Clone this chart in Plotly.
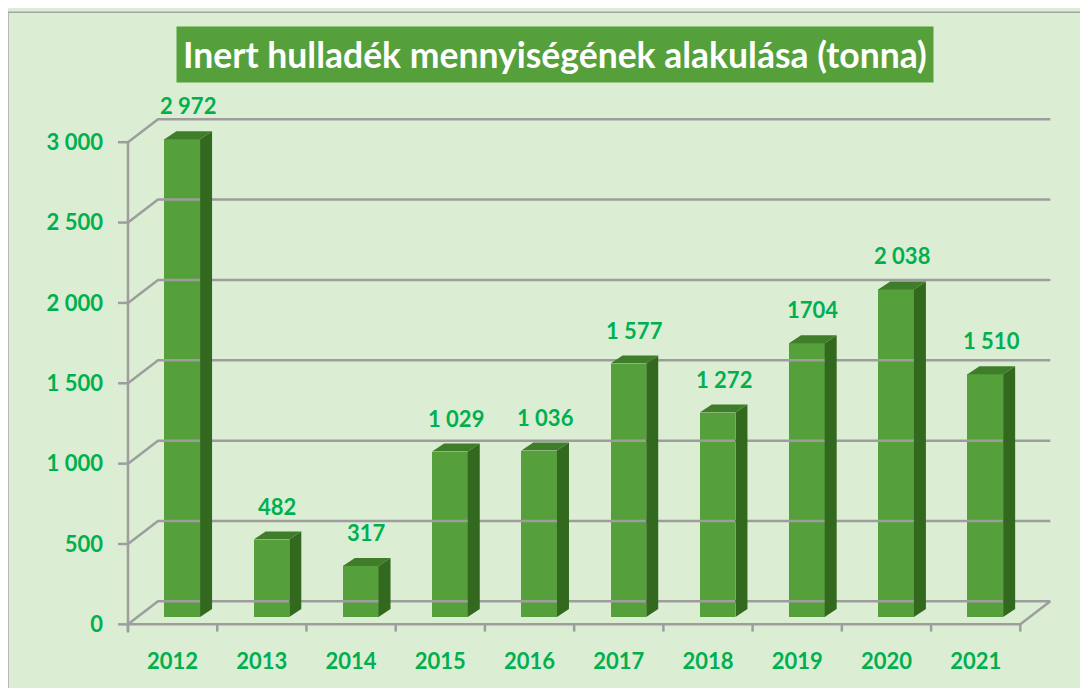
import plotly.graph_objects as go

# ---- data ----
years = ["2012", "2013", "2014", "2015", "2016", "2017", "2018", "2019", "2020", "2021"]
values = [2972, 482, 317, 1029, 1036, 1577, 1272, 1704, 2038, 1510]
value_labels = ["2 972", "482", "317", "1 029", "1 036", "1 577", "1 272", "1704", "2 038", "1 510"]
y_ticks = [0, 500, 1000, 1500, 2000, 2500, 3000]
y_tick_labels = ["0", "500", "1 000", "1 500", "2 000", "2 500", "3 000"]
title_text = "Inert hulladék mennyiségének alakulása (tonna)"

# ---- geometry (pixel scale of the pseudo-3D frame; page body adds 8px offset) ----
W, H = 1088, 688
OFF = 8
PX_X = 89.2          # pixels per category
PX_Y = 0.1607        # pixels per tonne
X0_PIX = 128 - OFF   # pixel of x = -0.5 (front-left corner)
Y0_PIX = 624 - OFF   # pixel of y = 0 (front floor)
x_range = [-0.612, 9.9]
y_range = [-60, 3300]
ml = X0_PIX - (-0.5 - x_range[0]) * PX_X
plot_w = (x_range[1] - x_range[0]) * PX_X
mr = W - ml - plot_w
mt = Y0_PIX - y_range[1] * PX_Y
plot_h = (y_range[1] - y_range[0]) * PX_Y
mb = H - mt - plot_h

WALL_DX = 30 / PX_X
WALL_DY = 23 / PX_Y
DEPTH_FRAC = 0.32
BAR_SHIFT = DEPTH_FRAC * WALL_DX
BAR_BASE = DEPTH_FRAC * WALL_DY
BAR_W = 0.4
BAR_DX = 12 / PX_X
BAR_DY = 8 / PX_Y

n = len(years)
idx = list(range(n))

GREEN = "#00b050"
FRONT = "#55a03b"
SIDE = "#33691f"
TOP = "#3f7d2b"
GRID = "#9d9d9d"
FONT = "Lato"

def px2paper_x(px):
    return (px - OFF - ml) / plot_w

def px2paper_y(py):
    return (H - mb - (py - OFF)) / plot_h

fig = go.Figure()

# gridlines / walls / floor
gx, gy = [], []
for v in y_ticks:
    gx += [-0.5, -0.5 + WALL_DX, n - 0.5 + WALL_DX, None]
    gy += [v, v + WALL_DY, v + WALL_DY, None]
# front floor line
gx += [-0.5, n - 0.5, n - 0.5 + WALL_DX, None]
gy += [0, 0, WALL_DY, None]
# front vertical axis line
gx += [-0.5, -0.5, None]
gy += [-50, y_ticks[-1], None]
# y tick marks
for v in y_ticks:
    gx += [x_range[0], -0.5, None]
    gy += [v, v, None]
# x tick marks at category boundaries
for i in range(n + 1):
    gx += [i - 0.5, i - 0.5, None]
    gy += [0, -45, None]
fig.add_trace(go.Scatter(x=gx, y=gy, mode="lines", line=dict(color=GRID, width=2.5),
                         hoverinfo="skip", showlegend=False))

# bar front faces
fig.add_trace(go.Bar(x=[i + BAR_SHIFT for i in idx], y=values, base=BAR_BASE, width=BAR_W,
                     marker=dict(color=FRONT, line=dict(width=0)), showlegend=False))

# side and top faces
sx, sy = [], []
tx, ty = [], []
for i, v in zip(idx, values):
    xl = i + BAR_SHIFT - BAR_W / 2
    xr = i + BAR_SHIFT + BAR_W / 2
    b = BAR_BASE
    t = BAR_BASE + v
    sx += [xr, xr + BAR_DX, xr + BAR_DX, xr, xr, None]
    sy += [b, b + BAR_DY, t + BAR_DY, t, b, None]
    tx += [xl, xl + BAR_DX, xr + BAR_DX, xr, xl, None]
    ty += [t, t + BAR_DY, t + BAR_DY, t, t, None]
fig.add_trace(go.Scatter(x=sx, y=sy, mode="lines", fill="toself", fillcolor=SIDE,
                         line=dict(width=0, color=SIDE), hoverinfo="skip", showlegend=False))
fig.add_trace(go.Scatter(x=tx, y=ty, mode="lines", fill="toself", fillcolor=TOP,
                         line=dict(width=0, color=TOP), hoverinfo="skip", showlegend=False))

# value labels
for i, v, lab in zip(idx, values, value_labels):
    fig.add_annotation(x=i + BAR_SHIFT + BAR_DX / 2, y=BAR_BASE + v + BAR_DY, text=lab,
                       showarrow=False, yanchor="bottom", yshift=10,
                       font=dict(family=FONT, size=22, color=GREEN, weight="bold"))

# title box
fig.add_annotation(xref="paper", yref="paper", x=px2paper_x(555), y=px2paper_y(54),
                   text=title_text, showarrow=False, xanchor="center", yanchor="middle",
                   bgcolor="#55a03b", borderpad=6,
                   font=dict(family=FONT, size=35.5, color="white", weight="bold"))

# outer border
fig.add_shape(type="rect", xref="paper", yref="paper",
              x0=px2paper_x(8), x1=px2paper_x(1110), y0=px2paper_y(710), y1=px2paper_y(12),
              line=dict(color="#a6a6a6", width=1.5), fillcolor="rgba(0,0,0,0)", layer="below")

fig.update_layout(
    width=W, height=H,
    margin=dict(l=ml, r=mr, t=mt, b=mb),
    paper_bgcolor="#dbeed3", plot_bgcolor="rgba(0,0,0,0)",
    bargap=0, showlegend=False,
    xaxis=dict(range=x_range, tickvals=idx, ticktext=years, showgrid=False, zeroline=False,
               showline=False, ticks="", ticklabelstandoff=12,
               tickfont=dict(family=FONT, size=22, color=GREEN, weight="bold")),
    yaxis=dict(range=y_range, tickvals=y_ticks, ticktext=y_tick_labels, showgrid=False,
               zeroline=False, showline=False, ticks="", ticklabelstandoff=14,
               tickfont=dict(family=FONT, size=22, color=GREEN, weight="bold")),
)

fig.write_html("out.html")
